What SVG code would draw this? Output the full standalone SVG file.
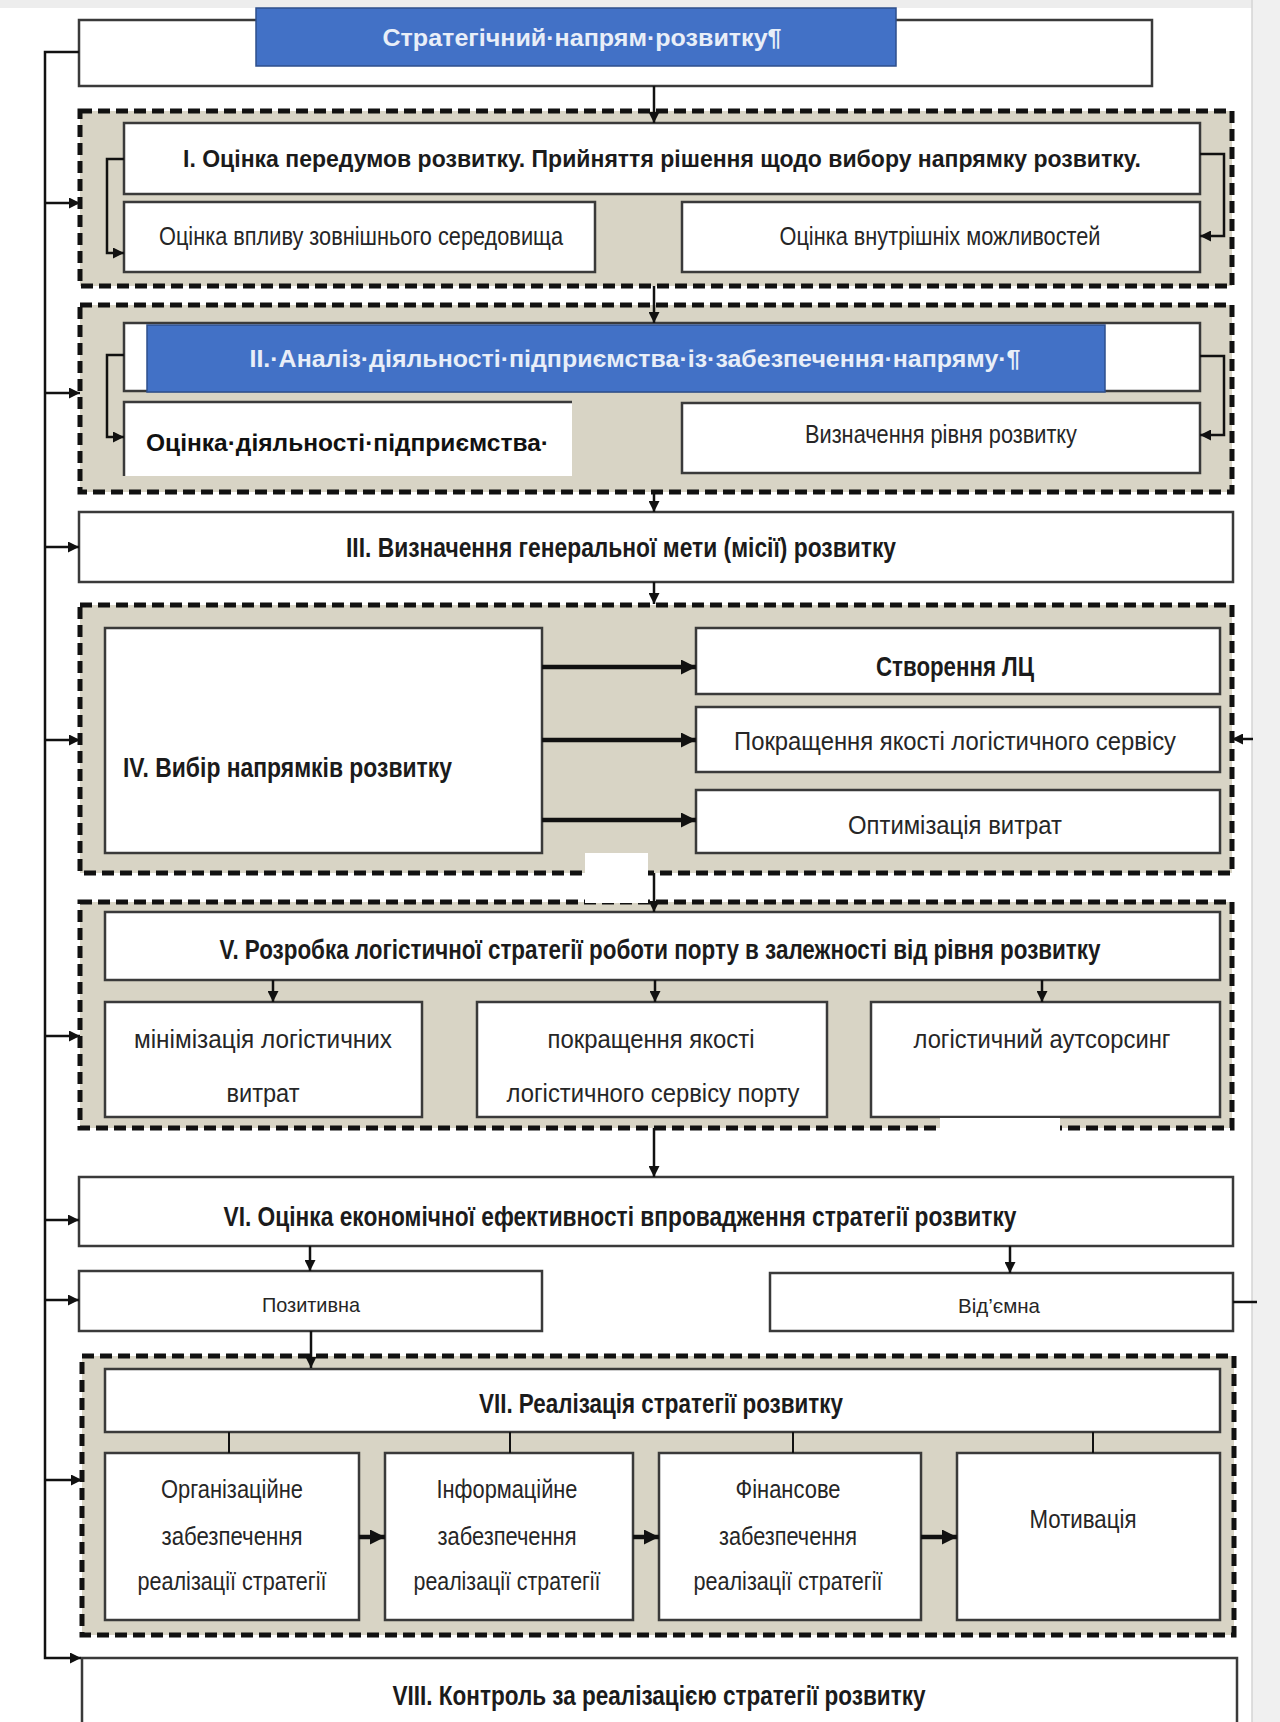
<svg xmlns="http://www.w3.org/2000/svg" width="1280" height="1722" viewBox="0 0 1280 1722">
<defs>
<style>
.grp{fill:#d8d4c5;stroke:#111;stroke-width:5;stroke-dasharray:12 6}
.box{fill:#fff;stroke:#3a3a3a;stroke-width:2.5}
.blue{fill:#4271c6;stroke:#2e4f8c;stroke-width:1.5}
.ln{fill:none;stroke:#111;stroke-width:2.5}
.tk{fill:none;stroke:#111;stroke-width:4.5}
.h{font-family:"Liberation Sans Narrow","Liberation Sans",Arial,sans-serif;font-weight:bold;font-size:27px;fill:#1b1b1b;text-anchor:middle}
.t{font-family:"Liberation Sans Narrow","Liberation Sans",Arial,sans-serif;font-size:25px;fill:#262626;text-anchor:middle}
.w{font-family:"Liberation Sans",Arial,sans-serif;font-weight:bold;font-size:23px;fill:#e8eef8;text-anchor:middle}
.k{font-family:"Liberation Sans",Arial,sans-serif;font-weight:bold;font-size:23px;fill:#111}
</style>
<marker id="a" viewBox="0 0 10 10" refX="10" refY="5" markerWidth="12" markerHeight="11" markerUnits="userSpaceOnUse" orient="auto"><path d="M0,0 L10,5 L0,10 z" fill="#111"/></marker>
<marker id="b" viewBox="0 0 10 10" refX="10" refY="5" markerWidth="15" markerHeight="15" markerUnits="userSpaceOnUse" orient="auto"><path d="M0,0 L10,5 L0,10 z" fill="#111"/></marker>
</defs>
<rect x="0" y="0" width="1280" height="1722" fill="#fff"/>
<rect x="0" y="0" width="1280" height="8" fill="#ededed"/>
<rect x="1252" y="0" width="28" height="1722" fill="#f0f0f0"/>
<line x1="1252" y1="0" x2="1252" y2="1722" stroke="#d4d4d4" stroke-width="1.5"/>

<g id="node-top">
<rect class="box" x="79" y="20" width="1073" height="66"/>
<rect class="blue" x="256" y="8" width="640" height="58"/>
<text class="w" x="582" y="46" textLength="399" lengthAdjust="spacingAndGlyphs">Стратегічний·напрям·розвитку¶</text>
</g>

<g id="node-I">
<rect class="grp" x="80" y="111" width="1152" height="175"/>
<rect class="box" x="124" y="123" width="1076" height="71"/>
<text class="h" x="662" y="167" style="font-size:24px" textLength="958" lengthAdjust="spacingAndGlyphs">I. Оцінка передумов розвитку. Прийняття рішення щодо вибору напрямку розвитку.</text>
<rect class="box" x="124" y="202" width="471" height="70"/>
<text class="t" x="361" y="245" textLength="404" lengthAdjust="spacingAndGlyphs">Оцінка впливу зовнішнього середовища</text>
<rect class="box" x="682" y="202" width="518" height="70"/>
<text class="t" x="940" y="245" textLength="321" lengthAdjust="spacingAndGlyphs">Оцінка внутрішніх можливостей</text>
</g>

<g id="node-II">
<rect class="grp" x="80" y="305" width="1152" height="187"/>
<rect class="box" x="124" y="323" width="1076" height="68"/>
<rect class="blue" x="147" y="325" width="958" height="67"/>
<text class="w" x="635" y="367" textLength="771" lengthAdjust="spacingAndGlyphs">II.·Аналіз·діяльності·підприємства·із·забезпечення·напряму·¶</text>
<rect x="124" y="402" width="448" height="74" fill="#fff"/>
<path d="M124,476 V402 H572" fill="none" stroke="#3a3a3a" stroke-width="2.5"/>
<text class="k" x="146" y="451" textLength="403" lengthAdjust="spacingAndGlyphs">Оцінка·діяльності·підприємства·</text>
<rect class="box" x="682" y="403" width="518" height="70"/>
<text class="t" x="941" y="443" textLength="272" lengthAdjust="spacingAndGlyphs">Визначення рівня розвитку</text>
</g>

<g id="node-III">
<rect class="box" x="79" y="512" width="1154" height="70"/>
<text class="h" x="621" y="557" textLength="550" lengthAdjust="spacingAndGlyphs">III. Визначення генеральної мети (місії) розвитку</text>
</g>

<g id="node-IV">
<rect class="grp" x="80" y="605" width="1152" height="268"/>
<rect class="box" x="105" y="628" width="437" height="225"/>
<text class="h" x="123" y="777" style="text-anchor:start" textLength="329" lengthAdjust="spacingAndGlyphs">IV. Вибір напрямків розвитку</text>
<rect class="box" x="696" y="628" width="524" height="66"/>
<text class="h" x="955" y="676" textLength="158" lengthAdjust="spacingAndGlyphs">Створення ЛЦ</text>
<rect class="box" x="696" y="707" width="524" height="65"/>
<text class="t" x="955" y="750" textLength="442" lengthAdjust="spacingAndGlyphs">Покращення якості логістичного сервісу</text>
<rect class="box" x="696" y="790" width="524" height="63"/>
<text class="t" x="955" y="834" textLength="214" lengthAdjust="spacingAndGlyphs">Оптимізація витрат</text>
</g>

<g id="node-V">
<rect class="grp" x="80" y="902" width="1152" height="226"/>
<rect class="box" x="105" y="912" width="1115" height="68"/>
<text class="h" x="660" y="959" textLength="881" lengthAdjust="spacingAndGlyphs">V. Розробка логістичної стратегії роботи порту в залежності від рівня розвитку</text>
<rect class="box" x="105" y="1002" width="317" height="115"/>
<text class="t" x="263" y="1048" textLength="258" lengthAdjust="spacingAndGlyphs">мінімізація логістичних</text>
<text class="t" x="263" y="1102" textLength="73" lengthAdjust="spacingAndGlyphs">витрат</text>
<rect class="box" x="477" y="1002" width="350" height="115"/>
<text class="t" x="651" y="1048" textLength="207" lengthAdjust="spacingAndGlyphs">покращення якості</text>
<text class="t" x="653" y="1102" textLength="293" lengthAdjust="spacingAndGlyphs">логістичного сервісу порту</text>
<rect class="box" x="871" y="1002" width="349" height="115"/>
<text class="t" x="1042" y="1048" textLength="257" lengthAdjust="spacingAndGlyphs">логістичний аутсорсинг</text>
</g>

<rect x="585" y="853" width="63" height="50" fill="#fff"/>
<rect x="940" y="1118" width="120" height="22" fill="#fff"/>

<g id="node-VI">
<rect class="box" x="79" y="1177" width="1154" height="69"/>
<text class="h" x="620" y="1226" textLength="793" lengthAdjust="spacingAndGlyphs">VI. Оцінка економічної ефективності впровадження стратегії розвитку</text>
</g>

<g id="node-positive">
<rect class="box" x="79" y="1271" width="463" height="60"/>
<text class="t" x="311" y="1312" style="font-size:21px" textLength="98" lengthAdjust="spacingAndGlyphs">Позитивна</text>
</g>

<g id="node-negative">
<rect class="box" x="770" y="1273" width="463" height="58"/>
<text class="t" x="999" y="1313" style="font-size:21px" textLength="82" lengthAdjust="spacingAndGlyphs">Від’ємна</text>
</g>

<g id="node-VII">
<rect class="grp" x="82" y="1356" width="1152" height="279"/>
<rect class="box" x="105" y="1369" width="1115" height="63"/>
<text class="h" x="661" y="1413" textLength="364" lengthAdjust="spacingAndGlyphs">VII. Реалізація стратегії розвитку</text>
<rect class="box" x="105" y="1453" width="254" height="167"/>
<text class="t" x="232" y="1498" textLength="142" lengthAdjust="spacingAndGlyphs">Організаційне</text>
<text class="t" x="232" y="1545" textLength="141" lengthAdjust="spacingAndGlyphs">забезпечення</text>
<text class="t" x="232" y="1590" textLength="189" lengthAdjust="spacingAndGlyphs">реалізації стратегії</text>
<rect class="box" x="385" y="1453" width="248" height="167"/>
<text class="t" x="507" y="1498" textLength="141" lengthAdjust="spacingAndGlyphs">Інформаційне</text>
<text class="t" x="507" y="1545" textLength="139" lengthAdjust="spacingAndGlyphs">забезпечення</text>
<text class="t" x="507" y="1590" textLength="187" lengthAdjust="spacingAndGlyphs">реалізації стратегії</text>
<rect class="box" x="659" y="1453" width="262" height="167"/>
<text class="t" x="788" y="1498" textLength="105" lengthAdjust="spacingAndGlyphs">Фінансове</text>
<text class="t" x="788" y="1545" textLength="138" lengthAdjust="spacingAndGlyphs">забезпечення</text>
<text class="t" x="788" y="1590" textLength="189" lengthAdjust="spacingAndGlyphs">реалізації стратегії</text>
<rect class="box" x="957" y="1453" width="263" height="167"/>
<text class="t" x="1083" y="1528" textLength="107" lengthAdjust="spacingAndGlyphs">Мотивація</text>
</g>

<g id="node-VIII">
<rect class="box" x="82" y="1658" width="1155" height="80"/>
<text class="h" x="659" y="1705" textLength="533" lengthAdjust="spacingAndGlyphs">VIII. Контроль за реалізацією стратегії розвитку</text>
</g>

<g id="connectors">
<path class="ln" d="M79,52 H45 V1658 H81" marker-end="url(#a)"/>
<path class="ln" d="M45,203 H80" marker-end="url(#a)"/>
<path class="ln" d="M45,393 H80" marker-end="url(#a)"/>
<path class="ln" d="M45,547 H79" marker-end="url(#a)"/>
<path class="ln" d="M45,740 H80" marker-end="url(#a)"/>
<path class="ln" d="M45,1036 H80" marker-end="url(#a)"/>
<path class="ln" d="M45,1220 H79" marker-end="url(#a)"/>
<path class="ln" d="M45,1300 H79" marker-end="url(#a)"/>
<path class="ln" d="M45,1480 H82" marker-end="url(#a)"/>

<path class="ln" d="M654,86 V123" marker-end="url(#a)"/>
<path class="ln" d="M654,286 V323" marker-end="url(#a)"/>
<path class="ln" d="M654,492 V512" marker-end="url(#a)"/>
<path class="ln" d="M654,582 V604" marker-end="url(#a)"/>
<path class="ln" d="M654,873 V912" marker-end="url(#a)"/>
<path class="ln" d="M654,1128 V1177" marker-end="url(#a)"/>

<path class="ln" d="M124,159 H107 V253 H124" marker-end="url(#a)"/>
<path class="ln" d="M1200,154 H1224 V236 H1200" marker-end="url(#a)"/>
<path class="ln" d="M124,355 H107 V437 H124" marker-end="url(#a)"/>
<path class="ln" d="M1200,356 H1224 V435 H1200" marker-end="url(#a)"/>

<path class="tk" d="M542,667 H696" marker-end="url(#b)"/>
<path class="tk" d="M542,740 H696" marker-end="url(#b)"/>
<path class="tk" d="M542,820 H696" marker-end="url(#b)"/>
<path class="ln" d="M1253,739 H1232" marker-end="url(#a)"/>

<path class="ln" d="M273,980 V1002" marker-end="url(#a)"/>
<path class="ln" d="M655,980 V1002" marker-end="url(#a)"/>
<path class="ln" d="M1042,980 V1002" marker-end="url(#a)"/>

<path class="ln" d="M310,1246 V1271" marker-end="url(#a)"/>
<path class="ln" d="M1010,1246 V1273" marker-end="url(#a)"/>
<path class="ln" d="M1233,1302 H1257"/>
<path class="ln" d="M311,1331 V1368" marker-end="url(#a)"/>

<path class="ln" d="M229,1432 V1453 M510,1432 V1453 M793,1432 V1453 M1093,1432 V1453" style="stroke-width:2"/>
<path class="tk" d="M359,1537 H385" marker-end="url(#b)"/>
<path class="tk" d="M633,1537 H659" marker-end="url(#b)"/>
<path class="tk" d="M921,1537 H957" marker-end="url(#b)"/>
</g>
</svg>
